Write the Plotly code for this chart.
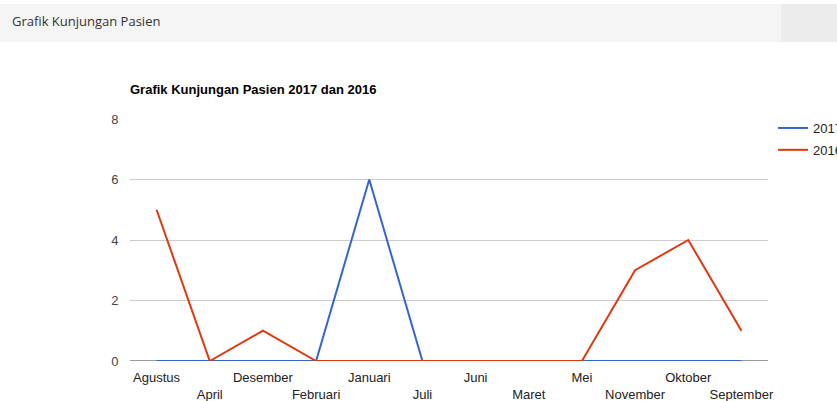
import plotly.graph_objects as go

# Monthly patient visits, categories in the order used by the data source
bulan = ["Agustus", "April", "Desember", "Februari", "Januari", "Juli",
         "Juni", "Maret", "Mei", "November", "Oktober", "September"]
kunjungan_2017 = [0, 0, 0, 0, 6, 0, 0, 0, 0, 0, 0, 0]
kunjungan_2016 = [5, 0, 1, 0, 0, 0, 0, 0, 0, 3, 4, 1]
y_ticks = [0, 2, 4, 6, 8]

W, H = 837, 401
L, R, T, B = 130, 69, 119, 40
pw, ph = W - L - R, H - T - B


def px_x(x):
    return (x - L) / pw


def px_y(y):
    return (H - B - y) / ph


# staggered two-row category labels
tick_text = [m if i % 2 == 0 else "<br>" + m for i, m in enumerate(bulan)]

fig = go.Figure()
fig.add_trace(go.Scatter(x=bulan, y=kunjungan_2017, name="2017", mode="lines",
                         legendgroup="a",
                         line=dict(color="#3366cc", width=2)))
fig.add_trace(go.Scatter(x=bulan, y=kunjungan_2016, name="2016", mode="lines",
                         legendgroup="b",
                         line=dict(color="#dc3912", width=2)))

fig.update_layout(
    width=W, height=H,
    margin=dict(l=L, r=R, t=T, b=B, autoexpand=False),
    paper_bgcolor="white", plot_bgcolor="white",
    font=dict(family="Liberation Sans, Arial, sans-serif", size=13, color="#222"),
    title=dict(text="<b>Grafik Kunjungan Pasien 2017 dan 2016</b>",
               x=0, xref="paper", xanchor="left",
               y=1 - 89 / H, yref="container", yanchor="middle",
               font=dict(size=13, color="#000")),
    showlegend=True,
    legend=dict(x=px_x(773), y=px_y(113), xanchor="left", yanchor="top",
                font=dict(size=13, color="#222"), bgcolor="rgba(0,0,0,0)",
                tracegroupgap=2),
    xaxis=dict(type="category", range=[-0.5, len(bulan) - 0.5],
               tickvals=bulan, ticktext=tick_text, tickangle=0,
               showgrid=False, zeroline=False, showline=False,
               ticks="outside", ticklen=4, tickcolor="rgba(0,0,0,0)",
               tickfont=dict(size=13, color="#222")),
    yaxis=dict(range=[0, 8], tickvals=y_ticks, showgrid=True,
               gridcolor="#cccccc", gridwidth=1, zeroline=False, showline=False,
               ticks="outside", ticklen=8, tickcolor="rgba(0,0,0,0)",
               tickfont=dict(size=13, color="#444")),
    shapes=[
        # page header bar
        dict(type="rect", xref="paper", yref="paper",
             x0=px_x(0), x1=px_x(W), y0=px_y(42), y1=px_y(4),
             fillcolor="#f5f5f5", line=dict(width=0), layer="below"),
        dict(type="rect", xref="paper", yref="paper",
             x0=px_x(781), x1=px_x(W), y0=px_y(42), y1=px_y(4),
             fillcolor="#ececec", line=dict(width=0), layer="below"),
        # baseline at zero
        dict(type="line", xref="paper", yref="y", x0=0, x1=1, y0=0, y1=0,
             line=dict(color="#333333", width=1), layer="below"),
    ],
    annotations=[
        dict(text="Grafik Kunjungan Pasien", xref="paper", yref="paper",
             x=px_x(10), y=px_y(21), xanchor="left", yanchor="middle",
             showarrow=False, font=dict(family="Open Sans", size=13, color="#333")),
    ],
)

fig.write_html("out.html")
